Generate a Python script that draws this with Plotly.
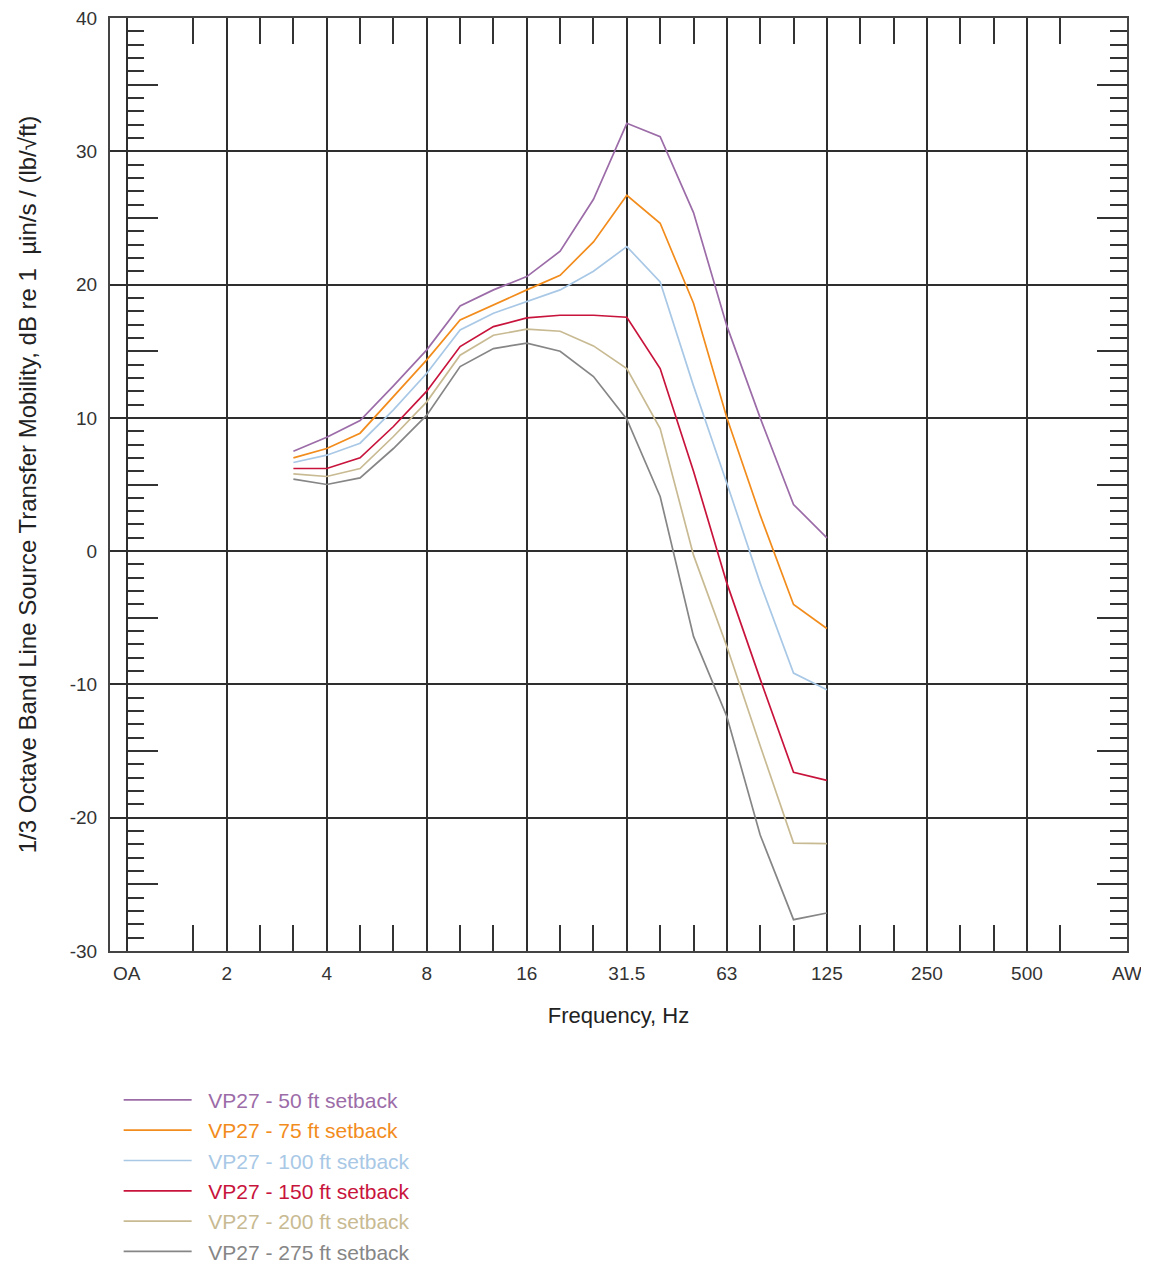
import plotly.graph_objects as go

# 1/3-octave band numbers (f = 10^(n/10)); OA placed at band 0, AW at band 30
band_numbers = [5, 6, 7, 8, 9, 10, 11, 12, 13, 14, 15, 16, 17, 18, 19, 20, 21]
band_labels = ["3.15", "4", "5", "6.3", "8", "10", "12.5", "16", "20", "25",
               "31.5", "40", "50", "63", "80", "100", "125"]

octave_tick_bands = [0, 3, 6, 9, 12, 15, 18, 21, 24, 27, 30]
octave_tick_labels = ["OA", "2", "4", "8", "16", "31.5", "63", "125", "250", "500", "AW"]

y_tick_values = [-30, -20, -10, 0, 10, 20, 30, 40]
y_tick_labels = ["-30", "-20", "-10", "0", "10", "20", "30", "40"]

setback_50 = [7.5, 8.55, 9.8, 12.4, 15.1, 18.4, 19.6, 20.6, 22.5, 26.4, 32.1, 31.1, 25.4, 16.9, 10.0, 3.5, 1.0]
setback_75 = [7.0, 7.7, 8.85, 11.6, 14.35, 17.35, 18.5, 19.6, 20.7, 23.2, 26.7, 24.6, 18.6, 10.0, 2.7, -4.0, -5.8]
setback_100 = [6.65, 7.2, 8.1, 10.6, 13.35, 16.6, 17.85, 18.7, 19.6, 21.0, 22.85, 20.2, 12.4, 5.1, -2.4, -9.15, -10.4]
setback_150 = [6.2, 6.2, 7.0, 9.35, 12.0, 15.35, 16.85, 17.5, 17.7, 17.7, 17.55, 13.7, 6.0, -2.4, -9.6, -16.6, -17.2]
setback_200 = [5.8, 5.6, 6.2, 8.6, 11.2, 14.7, 16.2, 16.65, 16.5, 15.4, 13.7, 9.2, -0.3, -7.15, -14.6, -21.9, -21.95]
setback_275 = [5.4, 5.0, 5.5, 7.7, 10.2, 13.85, 15.2, 15.6, 15.0, 13.1, 9.9, 4.1, -6.4, -12.4, -21.3, -27.65, -27.15]

series_names = ["VP27 - 50 ft setback", "VP27 - 75 ft setback", "VP27 - 100 ft setback",
                "VP27 - 150 ft setback", "VP27 - 200 ft setback", "VP27 - 275 ft setback"]
series_values = [setback_50, setback_75, setback_100, setback_150, setback_200, setback_275]
series_colors = ["#9c6ca8", "#f28c1c", "#a8c8e6", "#c8143c", "#c8ba92", "#868686"]

FONT = "Liberation Sans, Arial, sans-serif"
GRID = "#2e2e2e"

fig = go.Figure()
for name, vals, col in zip(series_names, series_values, series_colors):
    fig.add_trace(go.Scatter(
        x=band_numbers, y=vals, mode="lines",
        line=dict(color=col, width=1.7),
        name=f'&nbsp;&nbsp;<span style="color:{col}">{name}</span>',
        legendgroup=name,
        customdata=band_labels,
        hovertemplate="%{customdata} Hz: %{y}<extra></extra>",
    ))

# minor positions (axis decoration only)
x_minor = [b for b in range(2, 29) if b % 3 != 0]
y_long = [v for v in range(-25, 40, 10)]
y_short = [v for v in range(-29, 40) if v % 5 != 0]

# invisible traces to activate the helper y axes
fig.add_trace(go.Scatter(x=[None], y=[None], yaxis="y2", showlegend=False, hoverinfo="skip"))
fig.add_trace(go.Scatter(x=[None], y=[None], yaxis="y3", showlegend=False, hoverinfo="skip"))

# the page body has an 8px margin, so the figure is sized/offset to compensate
fig.update_layout(
    width=1141, height=1258,
    margin=dict(l=102, r=22, t=10, b=315, autoexpand=False),
    paper_bgcolor="white", plot_bgcolor="white",
    font=dict(family=FONT, color="#333333"),
    showlegend=True,
    legend=dict(
        x=0.0085, y=-0.138, xanchor="left", yanchor="top",
        font=dict(size=21, family=FONT),
        itemwidth=68, tracegroupgap=0,
        bgcolor="rgba(0,0,0,0)",
    ),
    xaxis=dict(
        range=[-0.5, 30.001], automargin=False, ticklabeloverflow="allow",
        tickmode="array", tickvals=octave_tick_bands, ticktext=octave_tick_labels,
        tickfont=dict(size=19, family=FONT, color="#333333"),
        ticks="inside", ticklen=0, ticklabelstandoff=4,
        showgrid=True, gridcolor=GRID, gridwidth=1.6,
        showline=True, linecolor="#444444", linewidth=2, mirror="ticks",
        zeroline=False,
        minor=dict(tickmode="array", tickvals=x_minor, ticks="inside",
                   ticklen=26, tickwidth=2, tickcolor="#333333", showgrid=False),
        title=dict(text="Frequency, Hz", font=dict(size=22, family=FONT, color="#222222"),
                   standoff=25),
    ),
    yaxis=dict(
        range=[-30, 40], automargin=False, ticklabeloverflow="allow",
        tickmode="array", tickvals=y_tick_values, ticktext=y_tick_labels,
        tickfont=dict(size=19, family=FONT, color="#333333"),
        ticks="", ticklabelstandoff=7,
        showgrid=True, gridcolor=GRID, gridwidth=1.6,
        showline=True, linecolor="#444444", linewidth=2, mirror=True,
        zeroline=False,
        title=dict(text="1/3 Octave Band Line Source Transfer Mobility, dB re 1  µin/s / (lb/√ft)",
                   font=dict(size=24, family=FONT, color="#222222"), standoff=26),
    ),
    yaxis2=dict(
        range=[-30, 40], overlaying="y", anchor="free", position=16.7 / 1017, side="left",
        automargin=False,
        tickmode="array", tickvals=y_long, ticks="inside", ticklen=30, tickwidth=2,
        tickcolor="#333333", showticklabels=False, showgrid=False, showline=False,
        zeroline=False,
        minor=dict(tickmode="array", tickvals=y_short, ticks="inside", ticklen=16,
                   tickwidth=2, tickcolor="#333333", showgrid=False),
    ),
    yaxis3=dict(
        range=[-30, 40], overlaying="y", anchor="x", side="right", automargin=False,
        tickmode="array", tickvals=y_long, ticks="inside", ticklen=30, tickwidth=2,
        tickcolor="#333333", showticklabels=False, showgrid=False, showline=False,
        zeroline=False,
        minor=dict(tickmode="array", tickvals=y_short, ticks="inside", ticklen=17,
                   tickwidth=2, tickcolor="#333333", showgrid=False),
    ),
)

fig.write_html("out.html")
